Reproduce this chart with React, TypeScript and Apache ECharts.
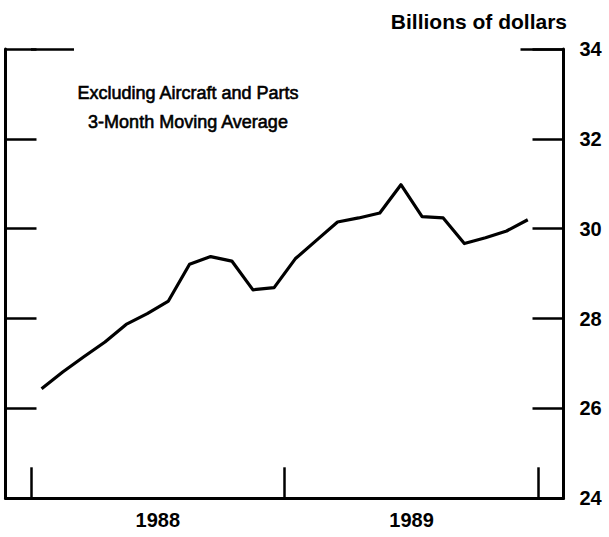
import React, { useEffect, useRef } from "react";
import * as echarts from "echarts";

// Monthly values, Jan 1988 – Dec 1989 (billions of dollars, 3-month moving average)
const YEARS = ["1988", "1989"];
const VALUES_1988 = [26.44, 26.81, 27.15, 27.48, 27.87, 28.11, 28.39, 29.21, 29.38, 29.28, 28.64, 28.69];
const VALUES_1989 = [29.33, 29.74, 30.15, 30.24, 30.35, 30.98, 30.27, 30.24, 29.67, 29.80, 29.95, 30.20];
const Y_MIN = 24;
const Y_MAX = 34;
const Y_STEP = 2;
const UNIT_LABEL = "Billions of dollars";
const NOTE_LINES = ["Excluding Aircraft and Parts", "3-Month Moving Average"];

const ALL_VALUES = [...VALUES_1988, ...VALUES_1989];
const SERIES_DATA = ALL_VALUES.map((v, i) => [i + 0.5, v]);
const YEAR_TICKS = YEARS.map((_, i) => i * 12).concat([YEARS.length * 12]);
const YEAR_LABEL_POS = YEARS.map((_, i) => i * 12 + 6);

const FONT = "'Liberation Sans', Arial, Helvetica, sans-serif";
const INK = "#000";

export default function App() {
  const ref = useRef<HTMLDivElement>(null);

  useEffect(() => {
    if (!ref.current) return;
    const chart = echarts.init(ref.current, null, { renderer: "svg" });

    const yCommon = {
      type: "value",
      min: Y_MIN,
      max: Y_MAX,
      interval: Y_STEP,
      splitLine: { show: false },
    };

    chart.setOption({
      animation: false,
      backgroundColor: "#fff",
      title: {
        text: UNIT_LABEL,
        right: 42,
        top: 11,
        padding: 0,
        textStyle: { fontFamily: FONT, fontSize: 21, fontWeight: "bold", color: INK },
      },
      grid: { left: 5.5, right: 45.5, top: 49, bottom: 38.7 },
      xAxis: {
        type: "value",
        min: -1.206,
        max: 25.19,
        splitLine: { show: false },
        axisLine: { show: true, lineStyle: { color: INK, width: 3 } },
        axisTick: {
          show: true,
          inside: true,
          length: 31,
          customValues: YEAR_TICKS,
          lineStyle: { color: INK, width: 2.5 },
        },
        axisLabel: {
          show: true,
          customValues: YEAR_LABEL_POS,
          formatter: (v: number) => YEARS[Math.floor(v / 12)] ?? "",
          margin: 12,
          fontFamily: FONT,
          fontSize: 20,
          fontWeight: "bold",
          color: INK,
        },
      },
      yAxis: [
        {
          ...yCommon,
          position: "right",
          axisLine: { show: true, onZero: false, lineStyle: { color: INK, width: 3 } },
          axisTick: { show: true, inside: true, length: 31, lineStyle: { color: INK, width: 2.5 } },
          axisLabel: {
            show: true,
            margin: 16,
            fontFamily: FONT,
            fontSize: 20,
            fontWeight: "bold",
            color: INK,
          },
        },
        {
          ...yCommon,
          position: "left",
          axisLine: { show: true, onZero: false, lineStyle: { color: INK, width: 3 } },
          axisTick: { show: true, inside: true, length: 31, lineStyle: { color: INK, width: 2.5 } },
          axisLabel: { show: false },
        },
        {
          ...yCommon,
          interval: undefined,
          position: "left",
          axisLine: { show: false },
          axisTick: { show: true, inside: true, length: 43, customValues: [Y_MAX], lineStyle: { color: INK, width: 2.5 } },
          axisLabel: { show: false },
        },
        {
          ...yCommon,
          interval: undefined,
          position: "right",
          axisLine: { show: false },
          axisTick: { show: true, inside: true, length: 43, customValues: [Y_MAX], lineStyle: { color: INK, width: 2.5 } },
          axisLabel: { show: false },
        },
      ],
      graphic: [
        {
          type: "text",
          x: 188,
          y: 107.5,
          style: {
            text: NOTE_LINES.join("\n"),
            align: "center",
            verticalAlign: "middle",
            lineHeight: 28.4,
            fontFamily: FONT,
            fontSize: 18,
            fill: INK,
            stroke: INK,
            lineWidth: 0.6,
          },
        },
      ],
      series: [
        {
          type: "line",
          xAxisIndex: 0,
          yAxisIndex: 0,
          data: SERIES_DATA,
          showSymbol: false,
          symbol: "none",
          lineStyle: { color: INK, width: 3.2, join: "round" },
        },
      ],
    });

    return () => chart.dispose();
  }, []);

  return (
    <div
      ref={ref}
      style={{ position: "fixed", left: 0, top: 0, width: 609, height: 537, background: "#fff" }}
    />
  );
}
